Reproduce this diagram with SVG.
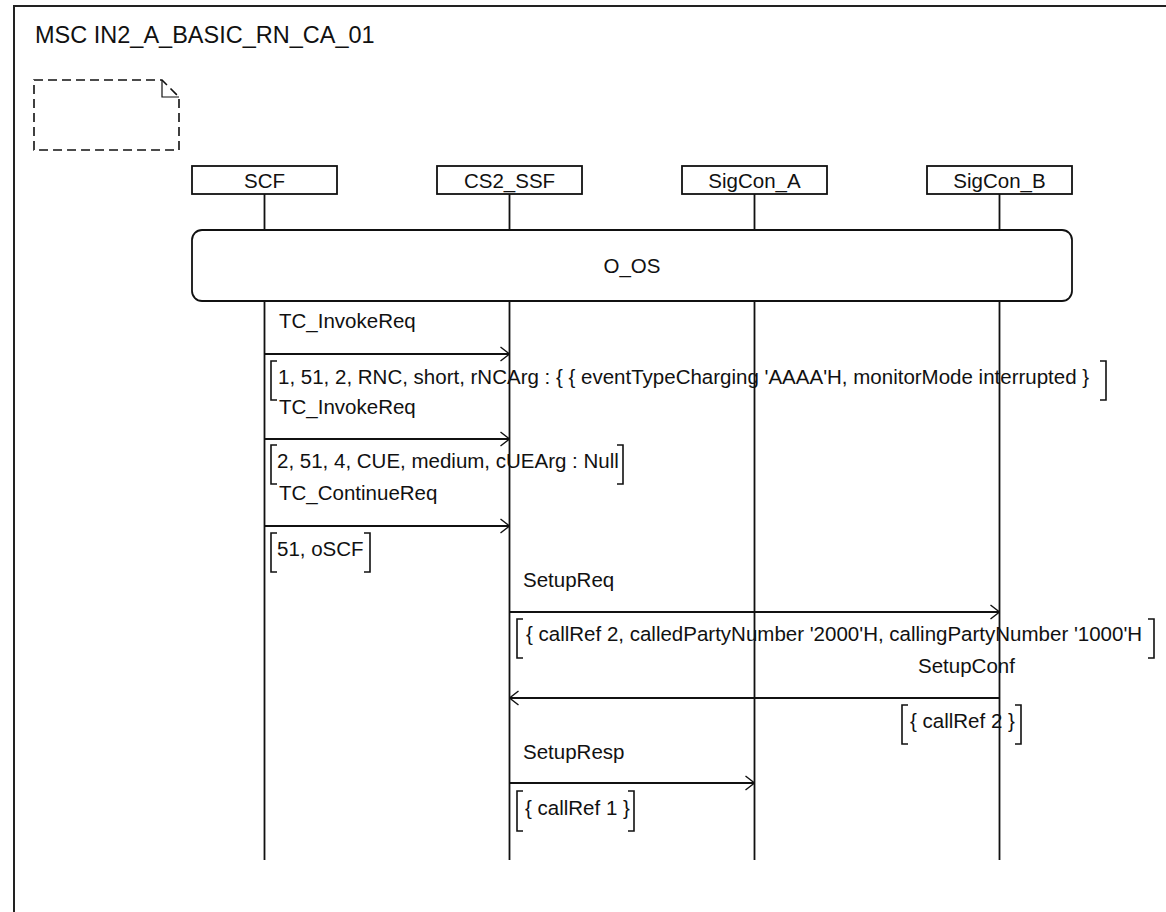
<svg xmlns="http://www.w3.org/2000/svg" width="1166" height="912" viewBox="0 0 1166 912">
<style>
  text { font-family: "Liberation Sans", Arial, sans-serif; fill: #111; }
  .t { font-size: 20.5px; }
  .title { font-size: 23.5px; }
  .box { fill: #fff; stroke: #111; stroke-width: 1.8; }
  .life { stroke: #111; stroke-width: 1.8; fill: none; }
  .msg { stroke: #111; stroke-width: 1.8; fill: none; marker-end: url(#open); }
  .br { stroke: #111; stroke-width: 1.6; fill: none; }
  .note { stroke: #111; stroke-width: 1.6; fill: none; stroke-dasharray: 9 5; }
</style>
<defs>
  <marker id="open" viewBox="0 0 10 16" refX="10" refY="8" markerWidth="10" markerHeight="16" orient="auto" markerUnits="userSpaceOnUse">
    <path d="M1,1 L10,8 L1,15" fill="none" stroke="#111" stroke-width="1.4"/>
  </marker>
</defs>
<rect x="0" y="0" width="1166" height="912" fill="#fff"/>
<g id="frame">
  <rect x="14" y="6" width="1200" height="1000" fill="none" stroke="#222" stroke-width="2"/>
  <text class="title" x="35" y="43">MSC IN2_A_BASIC_RN_CA_01</text>
</g>
<g id="note">
  <path class="note" d="M34,80 H162 L179,97 V150 H34 Z"/>
  <path class="note" d="M162,80 V97 H179" style="stroke-dasharray:none;stroke-width:1.2"/>
</g>
<g id="SCF">
  <rect class="box" x="192" y="166" width="145" height="28"/>
  <text class="t" x="264.5" y="188" text-anchor="middle">SCF</text>
  <path class="life" d="M264.5,194 V230 M264.5,301 V860"/>
</g>
<g id="CS2_SSF">
  <rect class="box" x="437" y="166" width="145" height="28"/>
  <text class="t" x="509.5" y="188" text-anchor="middle">CS2_SSF</text>
  <path class="life" d="M509.5,194 V230 M509.5,301 V860"/>
</g>
<g id="SigCon_A">
  <rect class="box" x="682" y="166" width="145" height="28"/>
  <text class="t" x="754.5" y="188" text-anchor="middle">SigCon_A</text>
  <path class="life" d="M754.5,194 V230 M754.5,301 V860"/>
</g>
<g id="SigCon_B">
  <rect class="box" x="927" y="166" width="145" height="28"/>
  <text class="t" x="999.5" y="188" text-anchor="middle">SigCon_B</text>
  <path class="life" d="M999.5,194 V230 M999.5,301 V860"/>
</g>
<g id="O_OS">
  <rect class="box" x="192" y="230" width="880" height="71" rx="10" ry="10"/>
  <text class="t" x="632" y="273" text-anchor="middle">O_OS</text>
</g>
<g id="connectors">
  <!-- TC_InvokeReq 1 -->
  <text class="t" x="279" y="328">TC_InvokeReq</text>
  <line class="msg" x1="264.5" y1="354" x2="509.5" y2="354"/>
  <path class="br" d="M277,361 H271 V400 H277 M1100,361 H1106 V400 H1100"/>
  <text class="t" x="278" y="384">1, 51, 2, RNC, short, rNCArg : { { eventTypeCharging 'AAAA'H, monitorMode interrupted }</text>
  <!-- TC_InvokeReq 2 -->
  <text class="t" x="279" y="414">TC_InvokeReq</text>
  <line class="msg" x1="264.5" y1="439" x2="509.5" y2="439"/>
  <path class="br" d="M277,445 H271 V484 H277 M617,445 H623 V484 H617"/>
  <text class="t" x="277" y="468">2, 51, 4, CUE, medium, cUEArg : Null</text>
  <!-- TC_ContinueReq -->
  <text class="t" x="279" y="500">TC_ContinueReq</text>
  <line class="msg" x1="264.5" y1="526" x2="509.5" y2="526"/>
  <path class="br" d="M277,533 H271 V572 H277 M364,533 H370 V572 H364"/>
  <text class="t" x="277" y="556">51, oSCF</text>
  <!-- SetupReq -->
  <text class="t" x="523" y="587">SetupReq</text>
  <line class="msg" x1="509.5" y1="612" x2="999.5" y2="612"/>
  <path class="br" d="M523,619 H517 V658 H523 M1148,619 H1154 V658 H1148"/>
  <text class="t" x="526" y="641">{ callRef 2, calledPartyNumber '2000'H, callingPartyNumber '1000'H</text>
  <!-- SetupConf -->
  <text class="t" x="918" y="673">SetupConf</text>
  <line class="msg" x1="999.5" y1="698" x2="509.5" y2="698"/>
  <path class="br" d="M908,705 H902 V744 H908 M1015,705 H1021 V744 H1015"/>
  <text class="t" x="910" y="728">{ callRef 2 }</text>
  <!-- SetupResp -->
  <text class="t" x="523" y="759">SetupResp</text>
  <line class="msg" x1="509.5" y1="783" x2="754.5" y2="783"/>
  <path class="br" d="M523,791 H517 V831 H523 M628,791 H634 V831 H628"/>
  <text class="t" x="525" y="815">{ callRef 1 }</text>
</g>
</svg>
